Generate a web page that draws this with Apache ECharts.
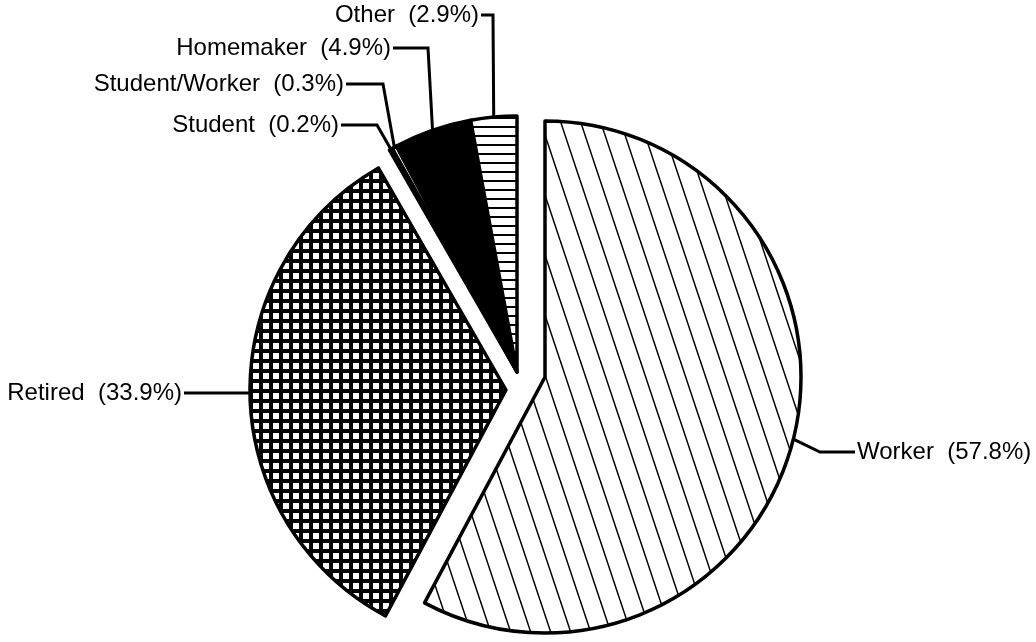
<!DOCTYPE html>
<html>
<head>
<meta charset="utf-8">
<script src="https://cdn.jsdelivr.net/npm/echarts@6/dist/echarts.min.js"></script>
<style>
  html, body { margin: 0; padding: 0; background: #fff; }
  #main { width: 1036px; height: 642px; }
</style>
</head>
<body>
<div id="main"></div>
<script>
var categories = ['Worker', 'Retired', 'Student', 'Student/Worker', 'Homemaker', 'Other'];
var shares = [57.8, 33.9, 0.2, 0.3, 4.9, 2.9];
var pieces = ['worker', 'retired', 'rest', 'rest', 'rest', 'rest'];
var fills = ['diag', 'grid', 'white', 'white', 'black', 'lines'];

// the pie is pulled apart in three pieces, each piece gets its own centre
var piecePlace = {
  worker: [545, 377],
  retired: [506, 390],
  rest: [517, 372]
};
var pieRadius = 256;

// label text anchor + where the leader line bends
var labelPlace = {
  'Worker':         { x: 857, y: 452, bendX: 820, align: 'left' },
  'Retired':        { x: 182, y: 393, bendX: null, align: 'right' },
  'Student':        { x: 339, y: 125, bendX: 377, align: 'right' },
  'Student/Worker': { x: 344, y: 84,  bendX: 383, align: 'right' },
  'Homemaker':      { x: 391, y: 48,  bendX: 428, align: 'right' },
  'Other':          { x: 479, y: 15,  bendX: 493, align: 'right' }
};

function makeFill(kind) {
  if (kind === 'white' || kind === 'black') {
    return kind === 'white' ? '#fff' : '#000';
  }
  var c = document.createElement('canvas');
  var g = c.getContext('2d');
  if (kind === 'diag') {
    c.width = 20; c.height = 60;
    g.fillStyle = '#fff';
    g.fillRect(0, 0, 20, 60);
    g.strokeStyle = '#000';
    g.lineWidth = 1.5;
    [-20, 0, 20].forEach(function (off) {
      g.beginPath();
      g.moveTo(off, 0);
      g.lineTo(off + 20, 60);
      g.stroke();
    });
  } else if (kind === 'grid') {
    c.width = 10; c.height = 10;
    g.fillStyle = '#000';
    g.fillRect(0, 0, 10, 10);
    g.fillStyle = '#fff';
    g.fillRect(3, 3, 6, 6);
  } else if (kind === 'lines') {
    c.width = 4; c.height = 9;
    g.fillStyle = '#fff';
    g.fillRect(0, 0, 4, 9);
    g.fillStyle = '#000';
    g.fillRect(0, 0, 4, 2);
  }
  return { image: c, repeat: 'repeat' };
}

function buildData(piece) {
  return categories.map(function (name, i) {
    var mine = pieces[i] === piece;
    return {
      name: name,
      value: shares[i],
      itemStyle: mine ? {
        color: makeFill(fills[i]),
        borderColor: '#000',
        borderWidth: 3.5
      } : {
        color: 'rgba(0,0,0,0)',
        borderWidth: 0
      },
      label: { show: mine },
      labelLine: { show: mine }
    };
  });
}

function placeLabel(params) {
  var p = labelPlace[categories[params.dataIndex]];
  if (!p || !params.labelLinePoints) {
    return {};
  }
  var start = params.labelLinePoints[0];
  var bendX = p.bendX === null ? start[0] : p.bendX;
  var endX = p.align === 'right' ? p.x + 2 : p.x - 2;
  return {
    x: p.x,
    y: p.y,
    align: p.align,
    verticalAlign: 'middle',
    labelLinePoints: [start, [bendX, p.y], [endX, p.y]]
  };
}

var chart = echarts.init(document.getElementById('main'));

var series = ['worker', 'retired', 'rest'].map(function (piece) {
  return {
    type: 'pie',
    center: piecePlace[piece],
    radius: pieRadius,
    startAngle: 90,
    clockwise: true,
    avoidLabelOverlap: false,
    silent: true,
    emphasis: { disabled: true },
    label: {
      position: 'outside',
      color: '#000',
      fontFamily: 'Liberation Sans',
      fontSize: 24,
      formatter: function (p) {
        return p.name + '  (' + p.value + '%)';
      }
    },
    labelLine: {
      show: true,
      length: 20,
      length2: 20,
      lineStyle: { color: '#000', width: 3 }
    },
    labelLayout: placeLabel,
    data: buildData(piece)
  };
});

chart.setOption({
  animation: false,
  backgroundColor: '#fff',
  series: series
});
</script>
</body>
</html>
